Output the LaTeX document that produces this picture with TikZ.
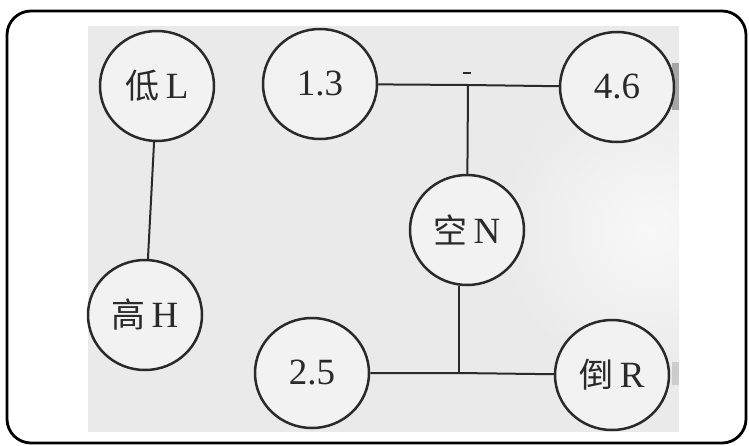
\documentclass[tikz,border=0pt]{standalone}
\usepackage{fontspec}
\setmainfont{Liberation Serif}
\newfontfamily\cjk{Noto Sans CJK SC}
\usetikzlibrary{shapes.geometric}
\definecolor{scanbg}{HTML}{EAEAEA}
\definecolor{scanlight}{HTML}{F8F8F8}
\definecolor{scanin}{HTML}{F2F2F2}
\definecolor{ink}{HTML}{2A2A2A}
\tikzset{
  gear/.style={ellipse, draw=ink, line width=2.5pt, fill=scanin,
    minimum width=114pt, minimum height=110pt, inner sep=0pt,
    text=ink, font=\fontsize{37}{37}\selectfont},
  link/.style={draw=ink, line width=2pt},
  frame/.style={draw=black, line width=2.8pt, rounded corners=24pt}
}
\newcommand{\zh}[1]{{\cjk\fontsize{34}{34}\selectfont #1}}
\begin{document}
\begin{tikzpicture}[x=1pt,y=-1pt]
\useasboundingbox (0,0) rectangle (749,445);
\fill[white] (0,0) rectangle (749,445);
\draw[frame] (7,11) rectangle (746,443);
\fill[scanbg] (88,26) rectangle (679,432);
\begin{scope}
  \clip (88,26) rectangle (679,432);
  \shade[inner color=scanlight, outer color=scanbg] (650,230) ellipse (150pt and 150pt);
\end{scope}
\fill[gray!70] (672,63) rectangle (679,110);
\fill[gray!40] (672,362) rectangle (679,385);
% nodes
\node[gear] (L) at (157,86) {\zh{低}\,L};
\node[gear] (H) at (145,315) {\zh{高}\,H};
\node[gear] (n13) at (320,84) {1.3};
\node[gear] (n46) at (617,87) {4.6};
\node[gear] (N) at (467,230) {\zh{空}\,N};
\node[gear] (n25) at (312,373) {2.5};
\node[gear] (R) at (612,375) {\zh{倒}\,R};
% junctions
\coordinate (jt) at (468,85);
\coordinate (jb) at (459,373);
% connectors
\draw[link] (L) -- (H);
\draw[link] (n13) -- (jt) -- (n46);
\draw[link] (jt) -- (N);
\draw[link] (n25) -- (jb) -- (R);
\draw[link] (jb) -- (jb |- N.south);
\draw[draw=ink, line width=1.2pt] (463,73) -- (471,73);
\end{tikzpicture}
\end{document}
